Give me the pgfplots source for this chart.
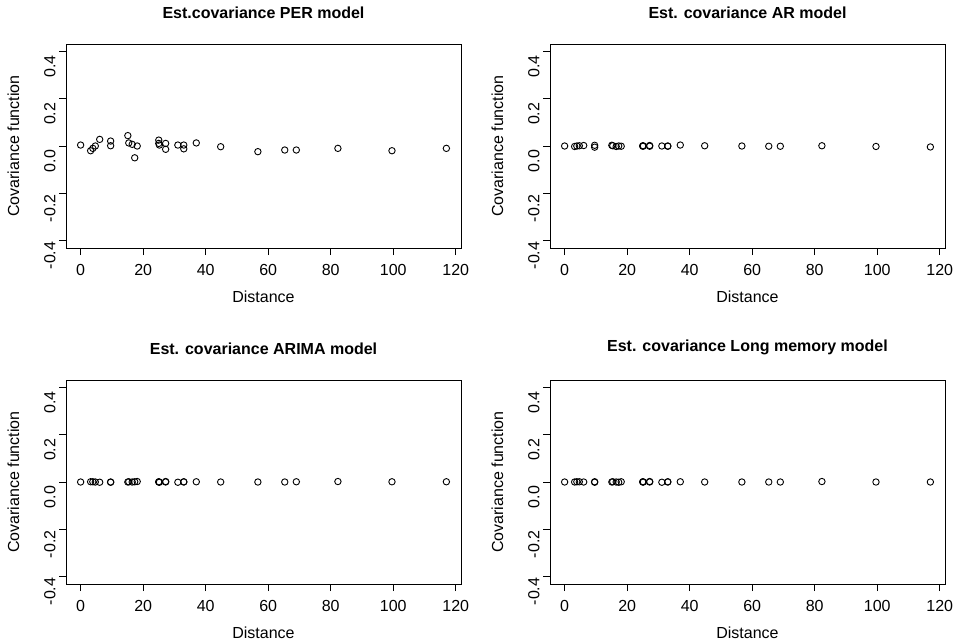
\documentclass[border=0pt]{standalone}
\usepackage{fontspec}
\setmainfont{Liberation Sans}
\usepackage{pgfplots}
\usepackage{pgfplotstable}
\pgfplotsset{compat=1.18}

% distance, PER, AR, ARIMA, long memory
\pgfplotstableread{
d      per     ar      arima   lm
0.0    0.004   0.000   0.000   0.000
3.2   -0.020  -0.002   0.001   0.000
3.9   -0.010   0.000   0.001   0.001
4.7    0.000   0.001   0.000   0.001
6.1    0.028   0.002  -0.001   0.000
9.6    0.021   0.003   0.000   0.001
9.6    0.001  -0.005  -0.001  -0.001
15.1   0.044   0.003   0.000   0.000
15.4   0.013   0.001   0.001   0.001
16.5   0.007  -0.002   0.000   0.000
17.3  -0.050   0.000   0.001  -0.001
18.1   0.000  -0.001   0.002   0.001
25.0   0.025   0.001   0.000   0.000
25.0   0.011  -0.001   0.001   0.001
25.2   0.004   0.000  -0.001   0.000
27.2   0.011   0.002   0.002   0.002
27.2  -0.014  -0.001   0.000   0.000
31.1   0.004   0.000  -0.001  -0.001
33.0   0.004  -0.001   0.000   0.001
33.0  -0.012   0.000   0.001   0.000
37.0   0.013   0.004   0.001   0.001
44.8  -0.003   0.001   0.000   0.000
56.7  -0.024   0.000   0.000   0.000
65.3  -0.017  -0.001   0.000   0.000
69.0  -0.017  -0.001   0.001   0.000
82.3  -0.010   0.001   0.002   0.002
99.6  -0.020  -0.002   0.001   0.000
117.0 -0.010  -0.004   0.001   0.000
}\covtab

\pgfplotsset{
  rpanel/.style={
    scale only axis,
    width=395pt, height=204pt,
    anchor=north west,
    xmin=-4.68, xmax=121.68,
    ymin=-0.432, ymax=0.432,
    xtick={0,20,...,120},
    ytick={-0.4,-0.2,0,0.2,0.4},
    yticklabel style={/pgf/number format/fixed, /pgf/number format/fixed zerofill, /pgf/number format/precision=1},
    /pgf/number format/assume math mode=true,
    tick align=outside,
    major tick length=7pt,
    tick style={black, line width=0.8pt},
    xtick pos=bottom, ytick pos=left,
    axis line style={black, line width=0.8pt},
    tick label style={font=\fontsize{16}{19}\selectfont},
    label style={font=\fontsize{16}{19}\selectfont},
    title style={font=\fontsize{16}{19}\selectfont\bfseries, yshift=16pt},
    yticklabel style={rotate=90, anchor=south, xshift=-15pt},
    xticklabel style={yshift=-6pt},
    xlabel={Distance},
    ylabel={Covariance function},
    ylabel style={yshift=18pt},
    xlabel style={yshift=-8pt},
  },
  rmarks/.style={only marks, mark=o, mark size=3.2pt, black, mark options={line width=0.9pt}},
}

\begin{document}
\begin{tikzpicture}
\path[use as bounding box] (0,0) rectangle (958pt,-642pt);

\begin{axis}[rpanel, at={(66pt,-44pt)}, title={Est.covariance PER model}]
\addplot[rmarks] table[x=d, y=per] {\covtab};
\end{axis}

\begin{axis}[rpanel, at={(550pt,-44pt)}, title={Est. covariance AR model}]
\addplot[rmarks] table[x=d, y=ar] {\covtab};
\end{axis}

\begin{axis}[rpanel, at={(66pt,-380pt)}, title={Est. covariance ARIMA model}]
\addplot[rmarks] table[x=d, y=arima] {\covtab};
\end{axis}

\begin{axis}[rpanel, at={(550pt,-380pt)}, title={Est. covariance Long memory model}]
\addplot[rmarks] table[x=d, y=lm] {\covtab};
\end{axis}

\end{tikzpicture}
\end{document}
